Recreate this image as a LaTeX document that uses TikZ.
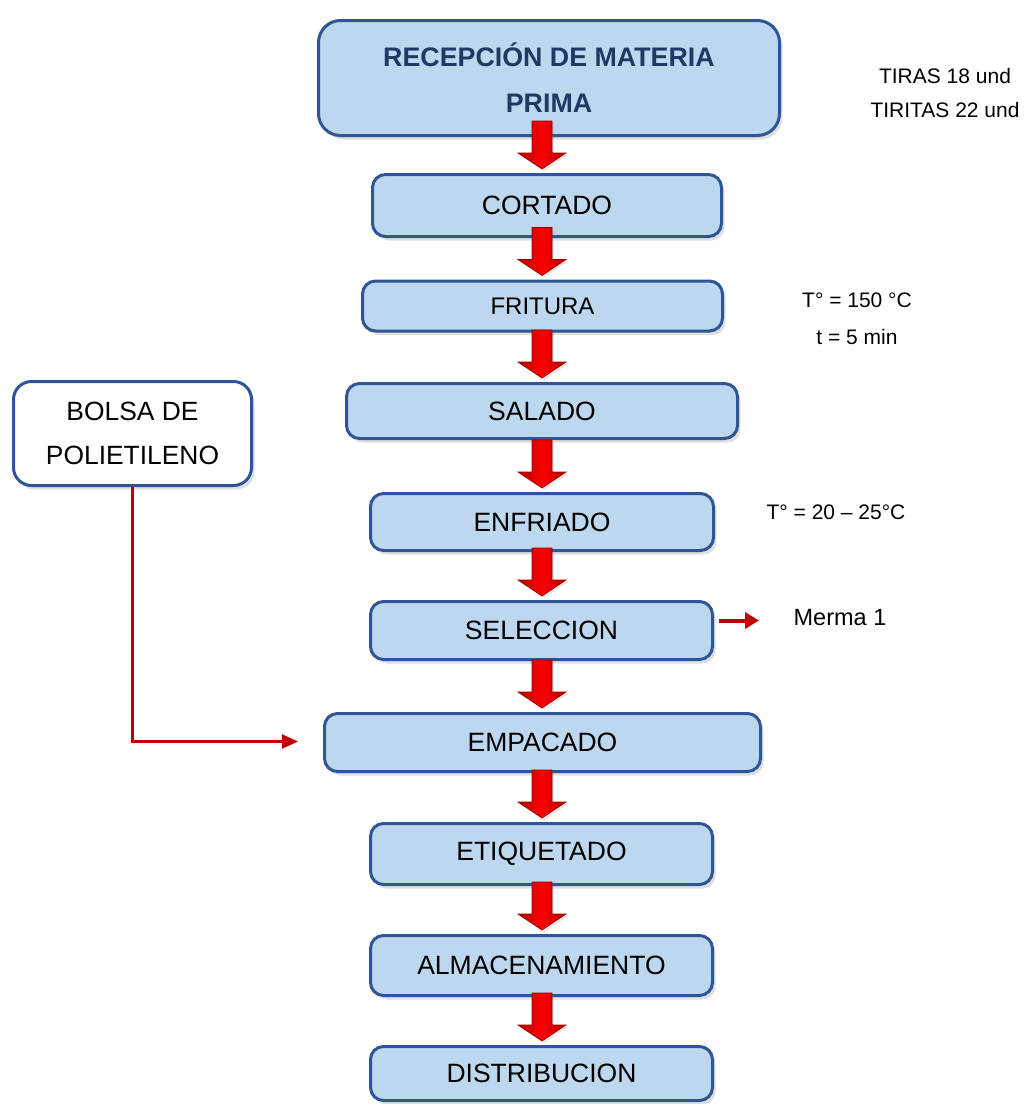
\documentclass[tikz,border=0pt]{standalone}
\usepackage{fontspec}
\setmainfont{Liberation Sans}
\usetikzlibrary{shadows,arrows.meta,calc}
\definecolor{boxfill}{HTML}{BDD7EE}
\definecolor{boxline}{HTML}{2F5597}
\definecolor{navy}{HTML}{1F3864}
\definecolor{linered}{HTML}{C00000}
\definecolor{arrdark}{HTML}{B00000}
\tikzset{
 procbox/.style={draw=boxline, fill=boxfill, line width=3pt, rounded corners=13pt,
   drop shadow={opacity=0.25, shadow xshift=3pt, shadow yshift=-4pt},
   inner sep=0pt, font=\fontsize{26.5}{31}\selectfont, text=black},
 note/.style={font=\fontsize{21}{25}\selectfont, inner sep=0pt},
 feedline/.style={draw=linered, line width=2.5pt, -{Triangle[length=16pt,width=14pt]}},
 blockarr/.style={shading=axis, left color=arrdark, right color=arrdark, middle color=red,
   draw=arrdark!85!black, line width=0.6pt,
   drop shadow={opacity=0.2, shadow xshift=2pt, shadow yshift=-2pt}},
}
% block arrow pointing down into node #2 (coming from node #1)
\newcommand\blockarrow[2]{%
 \path[blockarr] let \p1=(axis |- #2.north) in
 (\x1-10pt,\y1+52pt) -- (\x1+10pt,\y1+52pt) -- (\x1+10pt,\y1+20pt) -- (\x1+24pt,\y1+20pt)
 -- (\x1,\y1+4pt) -- (\x1-24pt,\y1+20pt) -- (\x1-10pt,\y1+20pt) -- cycle;}
\begin{document}
\begin{tikzpicture}[x=1pt,y=-1pt]
\useasboundingbox (0,0) rectangle (1025,1104);
\coordinate (axis) at (542,0);

\node[procbox, rounded corners=22pt, minimum width=461, minimum height=115, align=center,
  font=\bfseries\fontsize{26.8}{46}\selectfont, text=navy] (rec) at (549,78) {RECEPCIÓN DE MATERIA\\PRIMA};
\node[procbox, minimum width=349, minimum height=62] (cor) at (547,205.5) {CORTADO};
\node[procbox, minimum width=360, minimum height=50, font=\fontsize{24}{28}\selectfont] (fri) at (542.5,306) {FRITURA};
\node[procbox, minimum width=391, minimum height=55] (sal) at (542,411) {SALADO};
\node[procbox, minimum width=343, minimum height=57] (enf) at (542,522) {ENFRIADO};
\node[procbox, minimum width=342, minimum height=58] (sel) at (541.5,630.5) {SELECCION};
\node[procbox, minimum width=436, minimum height=58] (emp) at (542.5,742.5) {EMPACADO};
\node[procbox, minimum width=342, minimum height=61] (eti) at (541.5,854) {ETIQUETADO};
\node[procbox, minimum width=342, minimum height=60] (alm) at (541.5,965.5) {ALMACENAMIENTO};
\node[procbox, minimum width=342, minimum height=54] (dis) at (541.5,1073.5) {DISTRIBUCION};

\node[procbox, fill=white, rounded corners=18pt, minimum width=238, minimum height=104, align=center,
  font=\fontsize{26.4}{44}\selectfont] (bol) at (132.5,433.5) {BOLSA DE\\POLIETILENO};

\node[note] (tiras) at (945,76) {TIRAS 18 und};
\node[note] (tiritas) at (945,110) {TIRITAS 22 und};
\node[note] (temp1) at (857,300) {T° = 150 °C};
\node[note] (time1) at (857,337) {t = 5 min};
\node[note] (temp2) at (836,512) {T° = 20 – 25°C};
\node[note, font=\fontsize{23.5}{27}\selectfont] (merma) at (840,618) {Merma 1};

\blockarrow{rec}{cor}
\blockarrow{cor}{fri}
\blockarrow{fri}{sal}
\blockarrow{sal}{enf}
\blockarrow{enf}{sel}
\blockarrow{sel}{emp}
\blockarrow{emp}{eti}
\blockarrow{eti}{alm}
\blockarrow{alm}{dis}

\coordinate (empin) at ($(emp.west)+(-25,-1)$);
\draw[feedline] (bol.south) |- (empin);
\coordinate (mermaend) at ($(sel.east)+(45,-10)$);
\draw[draw=linered, line width=4pt, -{Triangle[length=14pt,width=16pt]}] ($(sel.east)+(5,-10)$) -- (mermaend);
\end{tikzpicture}
\end{document}
